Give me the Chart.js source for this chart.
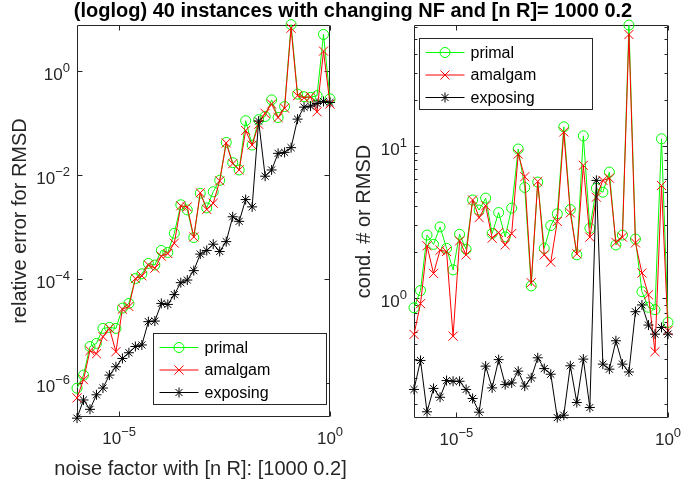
<!DOCTYPE html>
<html>
<head>
<meta charset="utf-8">
<script src="https://cdn.jsdelivr.net/npm/chart.js@4.4.1/dist/chart.umd.min.js"></script>
<style>
  body { margin: 0; background: #fff; }
  #wrap { position: relative; width: 683px; height: 486px; overflow: hidden; }
  #wrap canvas { position: absolute; left: 0; top: 0; }
  #title {
    position: absolute; top: -1px; left: 353px; transform: translateX(-50%);
    white-space: nowrap; font: bold 20px "Liberation Sans", Arial, sans-serif;
    color: #000; line-height: 22px;
  }
</style>
</head>
<body>
<div id="wrap">
  <canvas id="leftChart" width="683" height="486"></canvas>
  <canvas id="rightChart" width="683" height="486"></canvas>
  <div id="title">(loglog) 40 instances with changing NF and [n R]= 1000 0.2</div>
</div>
<script>
// noise factor, 40 instances (log spaced 1e-6 .. 1)
const noiseFactor = [
  1e-6, 1.425e-6, 2.031e-6, 2.894e-6, 4.125e-6, 5.878e-6, 8.377e-6, 1.194e-5, 1.701e-5, 2.424e-5,
  3.455e-5, 4.924e-5, 7.017e-5, 1e-4, 1.425e-4, 2.031e-4, 2.894e-4, 4.125e-4, 5.878e-4, 8.377e-4,
  1.194e-3, 1.701e-3, 2.424e-3, 3.455e-3, 4.924e-3, 7.017e-3, 1e-2, 1.425e-2, 2.031e-2, 2.894e-2,
  4.125e-2, 5.878e-2, 8.377e-2, 0.1194, 0.1701, 0.2424, 0.3455, 0.4924, 0.7017, 1
];

// left: relative error for RMSD
const relErrPrimal = [
  7.9e-7, 1.41e-6, 5.0e-6, 5.75e-6, 1.12e-5, 1.17e-5, 1.12e-5, 2.75e-5, 3.39e-5, 1.02e-4,
  1.26e-4, 2.0e-4, 1.86e-4, 3.55e-4, 3.24e-4, 7.6e-4, 2.69e-3, 2.14e-3, 6.3e-4, 4.47e-3,
  2.34e-3, 4.79e-3, 7.94e-3, 4.27e-2, 1.74e-2, 1.26e-2, 0.112, 3.8e-2, 0.117, 0.135,
  0.282, 0.129, 0.209, 7.94, 0.363, 0.324, 0.316, 0.339, 5.13, 0.295
];
const relErrAmalgam = [
  5.13e-7, 1.15e-6, 4.17e-6, 3.63e-6, 7.76e-6, 1.12e-5, 3.98e-6, 2.63e-5, 2.95e-5, 1.02e-4,
  1.15e-4, 1.86e-4, 1.62e-4, 2.75e-4, 3.09e-4, 4.9e-4, 2.57e-3, 2.45e-3, 6.46e-4, 4.57e-3,
  2.19e-3, 2.88e-3, 7.76e-3, 4.17e-2, 1.66e-2, 1.26e-2, 7.24e-2, 3.8e-2, 9.55e-2, 0.155,
  0.234, 0.129, 0.195, 6.76, 0.339, 0.309, 0.324, 0.166, 2.45, 0.234
];
const relErrExposing = [
  2.09e-7, 4.68e-7, 3.09e-7, 5.89e-7, 7.94e-7, 1.41e-6, 2.04e-6, 2.95e-6, 3.8e-6, 5.01e-6,
  5.37e-6, 1.51e-5, 1.55e-5, 3.39e-5, 3.24e-5, 5.01e-5, 8.51e-5, 9.55e-5, 1.45e-4, 3.02e-4,
  3.55e-4, 4.68e-4, 3.39e-4, 5.25e-4, 1.58e-3, 1.29e-3, 3.39e-3, 2.45e-3, 0.11, 9.55e-3,
  1.26e-2, 2.63e-2, 2.75e-2, 3.39e-2, 0.12, 0.204, 0.214, 0.24, 0.263, 0.251
];

// right: cond. # or RMSD
const condPrimal = [
  0.863, 1.12, 2.59, 2.25, 2.93, 2.12, 1.53, 2.62, 2.09, 4.40,
  3.78, 4.53, 2.65, 3.64, 2.52, 3.89, 9.51, 5.32, 1.20, 5.77,
  2.12, 2.99, 3.57, 13.3, 3.81, 1.92, 11.6, 2.87, 5.25, 4.95,
  6.71, 2.23, 2.59, 61.9, 2.44, 1.10, 0.869, 0.838, 11.1, 0.692
];
const condAmalgam = [
  0.577, 0.918, 2.20, 1.45, 2.06, 2.02, 0.562, 2.37, 1.92, 4.40,
  3.37, 4.03, 2.47, 2.69, 2.23, 2.65, 8.81, 6.25, 1.26, 5.82,
  1.92, 1.72, 3.18, 12.3, 3.62, 1.95, 7.43, 2.51, 4.59, 5.92,
  6.12, 2.32, 2.51, 53.7, 2.30, 1.46, 1.05, 0.444, 5.48, 0.610
];
const condExposing = [
  0.251, 0.389, 0.179, 0.255, 0.223, 0.287, 0.284, 0.284, 0.251, 0.219,
  0.178, 0.357, 0.257, 0.394, 0.270, 0.277, 0.331, 0.264, 0.299, 0.405,
  0.344, 0.316, 0.164, 0.170, 0.359, 0.206, 0.397, 0.191, 5.92, 0.368,
  0.341, 0.524, 0.368, 0.327, 0.813, 0.900, 0.664, 0.579, 0.641, 0.579
];

const seriesNames = ["primal", "amalgam", "exposing"];
const xTicks = [1e-5, 1];
const yTicksLeft = [1e-6, 1e-4, 1e-2, 1];
const yTicksRight = [1, 10];
const yMinorRight = [0.2, 0.3, 0.4, 0.5, 0.6, 0.7, 0.8, 0.9, 2, 3, 4, 5, 6, 7, 8, 9, 20, 30, 40, 50, 60];

const AXIS = "#262626";
const FONT = "'Liberation Sans', Arial, Helvetica, sans-serif";

function expOf(v) {
  return String(Math.round(Math.log10(v))).replace("-", "\u2212");
}

function marker(ctx, style, x, y, r) {
  ctx.beginPath();
  if (style === "circle") {
    ctx.arc(x, y, r, 0, Math.PI * 2);
  } else if (style === "crossRot") {
    const d = r * 0.707;
    ctx.moveTo(x - d, y - d); ctx.lineTo(x + d, y + d);
    ctx.moveTo(x + d, y - d); ctx.lineTo(x - d, y + d);
  } else {
    const d = r * 0.707;
    ctx.moveTo(x - r, y); ctx.lineTo(x + r, y);
    ctx.moveTo(x, y - r); ctx.lineTo(x, y + r);
    ctx.moveTo(x - d, y - d); ctx.lineTo(x + d, y + d);
    ctx.moveTo(x + d, y - d); ctx.lineTo(x - d, y + d);
  }
  ctx.stroke();
}

// "10" with a raised exponent, anchored by its right edge or its centre
function powText(ctx, v, x, yBase, anchor) {
  const e = expOf(v);
  ctx.font = "17px " + FONT;
  const wb = ctx.measureText("10").width;
  ctx.font = "13px " + FONT;
  const we = ctx.measureText(e).width;
  const total = wb + we;
  const x0 = anchor === "right" ? x - total : x - total / 2;
  ctx.font = "17px " + FONT;
  ctx.fillText("10", x0, yBase);
  ctx.font = "13px " + FONT;
  ctx.fillText(e, x0 + wb, yBase - 8);
}

// matlab-ish box with inward ticks, tick labels, x label + legend box
const matlabAxes = {
  id: "matlabAxes",
  beforeDatasetsDraw(chart, args, opts) {
    const { ctx, chartArea: a, scales } = chart;
    const L = Math.round(a.left) + 0.5, R = Math.round(a.right) - 0.5;
    const T = Math.round(a.top) + 0.5, B = Math.round(a.bottom) - 0.5;
    ctx.save();
    ctx.strokeStyle = AXIS;
    ctx.lineWidth = 1;
    ctx.beginPath();
    ctx.rect(L, T, R - L, B - T);
    const tickX = (v, len) => {
      const px = Math.round(scales.x.getPixelForValue(v)) + 0.5;
      ctx.moveTo(px, B); ctx.lineTo(px, B - len);
      ctx.moveTo(px, T); ctx.lineTo(px, T + len);
    };
    const tickY = (v, len) => {
      const py = Math.round(scales.y.getPixelForValue(v)) + 0.5;
      ctx.moveTo(L, py); ctx.lineTo(L + len, py);
      ctx.moveTo(R, py); ctx.lineTo(R - len, py);
    };
    opts.xMajor.forEach(v => tickX(v, 5));
    opts.yMajor.forEach(v => tickY(v, 5));
    (opts.yMinor || []).forEach(v => tickY(v, 3));
    ctx.stroke();

    // tick labels
    ctx.fillStyle = AXIS;
    ctx.textAlign = "left";
    ctx.textBaseline = "alphabetic";
    opts.xMajor.forEach(v => {
      powText(ctx, v, scales.x.getPixelForValue(v), a.bottom + 27, "center");
    });
    opts.yMajor.forEach(v => {
      powText(ctx, v, a.left - 7, scales.y.getPixelForValue(v) + 9, "right");
    });

    // x label (wider than the axes, so not the scale title)
    if (opts.xTitle) {
      ctx.font = "20px " + FONT;
      ctx.textAlign = "center";
      ctx.textBaseline = "middle";
      ctx.fillText(opts.xTitle, (a.left + a.right) / 2 - 3, a.bottom + 52);
    }
    ctx.restore();
  },
  afterDraw(chart, args, opts) {
    const { ctx, chartArea: a } = chart;
    const w = 173, h = 71;
    let bx, by;
    if (opts.corner === "br") { bx = a.right - 4 - w; by = a.bottom - 13 - h; }
    else { bx = a.left + 5; by = a.top + 13; }
    bx = Math.round(bx) + 0.5; by = Math.round(by) + 0.5;
    ctx.save();
    ctx.fillStyle = "#fff";
    ctx.fillRect(bx, by, w, h);
    ctx.strokeStyle = AXIS;
    ctx.lineWidth = 1;
    ctx.strokeRect(bx, by, w, h);
    ctx.font = "16px " + FONT;
    ctx.textBaseline = "middle";
    ctx.textAlign = "left";
    const order = [2, 1, 0];
    order.forEach((di, row) => {
      const ds = chart.data.datasets[di];
      const y = by + 14 + row * 22.5;
      ctx.strokeStyle = ds.borderColor;
      ctx.lineWidth = 1;
      ctx.beginPath();
      ctx.moveTo(bx + 6, y); ctx.lineTo(bx + 45, y);
      ctx.stroke();
      marker(ctx, ds.pointStyle, bx + 25.5, y, ds.pointStyle === "crossRot" ? 6.4 : 5);
      ctx.fillStyle = "#000";
      ctx.fillText(ds.label, bx + 51, y + 1);
    });
    ctx.restore();
  }
};

function toXY(arr) {
  return noiseFactor.map((x, i) => ({ x: x, y: arr[i] }));
}

function makeDatasets(primal, amalgam, exposing) {
  // order: lower is drawn on top (exposing on top, then amalgam, then primal)
  return [
    { label: seriesNames[2], data: toXY(exposing), borderColor: "#000000", pointBorderColor: "#000000",
      pointStyle: "star", pointRadius: 5, order: 1 },
    { label: seriesNames[1], data: toXY(amalgam), borderColor: "#ff0000", pointBorderColor: "#ff0000",
      pointStyle: "crossRot", pointRadius: 6.4, order: 2 },
    { label: seriesNames[0], data: toXY(primal), borderColor: "#00ff00", pointBorderColor: "#00ff00",
      pointStyle: "circle", pointRadius: 5, order: 3 }
  ].map(d => Object.assign(d, {
    borderWidth: 1, pointBorderWidth: 1, pointBackgroundColor: "rgba(0,0,0,0)",
    pointHoverRadius: d.pointRadius, tension: 0, fill: false, clip: false
  }));
}

function setTicks(list) {
  return scale => { scale.ticks = list.map(v => ({ value: v })); };
}

function makeChart(id, cfg) {
  return new Chart(document.getElementById(id), {
    type: "line",
    data: { datasets: makeDatasets(cfg.primal, cfg.amalgam, cfg.exposing) },
    options: {
      responsive: false,
      animation: false,
      devicePixelRatio: 1,
      events: [],
      layout: { padding: cfg.padding },
      plugins: {
        legend: { display: false },
        tooltip: { enabled: false },
        matlabAxes: { xMajor: xTicks, yMajor: cfg.yTicks, yMinor: cfg.yMinor,
          corner: cfg.corner, xTitle: cfg.xTitle }
      },
      scales: {
        x: {
          type: "logarithmic",
          min: 1e-6, max: 1,
          afterBuildTicks: setTicks(xTicks),
          afterFit: s => { s.height = cfg.xAxisHeight; },
          grid: { display: false },
          border: { display: false },
          ticks: { display: false }
        },
        y: {
          type: "logarithmic",
          min: cfg.yMin, max: cfg.yMax,
          afterBuildTicks: setTicks(cfg.yTicks),
          afterFit: s => { s.width = cfg.yAxisWidth; },
          grid: { display: false },
          border: { display: false },
          ticks: { display: false },
          title: {
            display: true, text: cfg.yTitle, color: AXIS,
            font: { family: FONT, size: 20 }, padding: { top: cfg.yTitlePad, bottom: 0 }
          }
        }
      }
    },
    plugins: [matlabAxes]
  });
}

makeChart("leftChart", {
  primal: relErrPrimal, amalgam: relErrAmalgam, exposing: relErrExposing,
  padding: { left: 0, right: 683 - 330, top: 25, bottom: 0 },
  yAxisWidth: 77, xAxisHeight: 69,
  yMin: 2.2e-7, yMax: 7.8,
  yTicks: yTicksLeft, yMinor: [],
  yTitle: "relative error for RMSD", yTitlePad: 8,
  xTitle: "noise factor with [n R]: [1000 0.2]",
  corner: "br"
});

makeChart("rightChart", {
  primal: condPrimal, amalgam: condAmalgam, exposing: condExposing,
  padding: { left: 340, right: 683 - 668, top: 25, bottom: 0 },
  yAxisWidth: 74, xAxisHeight: 68,
  yMin: 0.163, yMax: 62,
  yTicks: yTicksRight, yMinor: yMinorRight,
  yTitle: "cond. # or RMSD", yTitlePad: 12,
  xTitle: "",
  corner: "tl"
});
</script>
</body>
</html>
